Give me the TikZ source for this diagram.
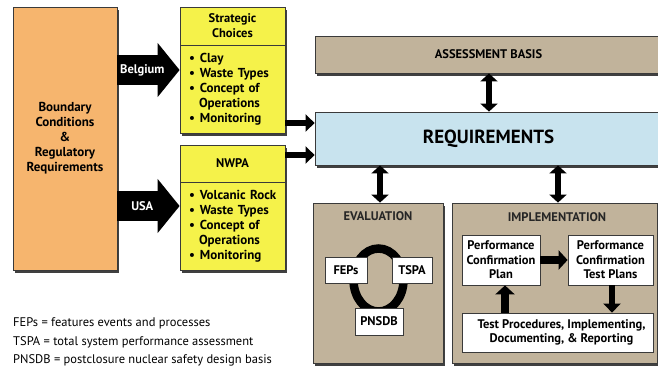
\documentclass[tikz,border=0pt]{standalone}
\usepackage{fontspec}
\setmainfont{PT Sans}
\usepackage{tikz}
\usetikzlibrary{arrows.meta,positioning,calc,shadows}
\definecolor{bcorange}{HTML}{F6B56E}
\definecolor{choiceyellow}{HTML}{F5F24A}
\definecolor{basistan}{HTML}{C1B39B}
\definecolor{reqblue}{HTML}{C8E3EE}
\definecolor{edgegray}{HTML}{3A3A3A}
\tikzset{
  boxshadow/.style={drop shadow={shadow xshift=2pt,shadow yshift=-2.5pt,
             fill=black!75,opacity=1}},
  % boxes
  bcbox/.style={draw=edgegray,line width=0.8pt,fill=bcorange,boxshadow,
             align=center,font=\fontsize{13}{15}\selectfont\bfseries},
  choicehd/.style={draw=edgegray,line width=0.8pt,fill=choiceyellow,boxshadow,
             align=center,font=\fontsize{12.5}{15}\selectfont\bfseries,
             minimum width=105pt,inner sep=0pt},
  choicebody/.style={draw=edgegray,line width=0.8pt,fill=choiceyellow,boxshadow,
             text width=87pt,inner xsep=9pt,inner ysep=0pt,align=left,
             minimum height=88pt,font=\fontsize{13}{15}\selectfont\bfseries},
  basisbox/.style={draw=edgegray,line width=0.8pt,fill=basistan,boxshadow,inner sep=0pt},
  reqbox/.style={draw=edgegray,line width=0.8pt,fill=reqblue,boxshadow,inner sep=0pt},
  whitebox/.style={draw=edgegray,line width=0.8pt,fill=white,inner sep=0pt,
             align=center,font=\fontsize{12.5}{14.5}\selectfont\bfseries},
  title/.style={font=\fontsize{12.5}{14}\selectfont\bfseries,text=black!85},
  % arrows
  bigarr/.style={draw=black,line width=30pt,-{Triangle[length=22pt,width=53pt]}},
  smallarr/.style={draw=black,line width=6pt,-{Triangle[length=9pt,width=17pt]}},
  dblarr/.style={draw=black,line width=5.5pt,{Triangle[length=8pt,width=17pt]}-{Triangle[length=8pt,width=17pt]}},
  midarr/.style={draw=black,line width=8pt,-{Triangle[length=9pt,width=19pt]}},
  arrlabel/.style={text=white,font=\fontsize{12.5}{14}\selectfont\bfseries},
}
\newcommand{\itemrow}[1]{\mbox{\textbullet\hspace{5pt}#1}}
\begin{document}
\begin{tikzpicture}[x=1pt,y=-1pt]
  \useasboundingbox[fill=white] (0,0) rectangle (658,368);
  % left column
  \node[bcbox,minimum width=104pt,minimum height=263pt] (bc) at (65,138.5)
    {Boundary\\Conditions\\\&\\Regulatory\\Requirements};
  \node[choicehd,minimum height=38pt] (sc) at (232.5,26) {Strategic\\Choices};
  \node[choicebody] (scl) at (232.5,89)
    {\itemrow{Clay}\\\itemrow{Waste Types}\\\itemrow{Concept of}\\\hspace*{10pt}Operations\\\itemrow{Monitoring}};
  \node[choicehd,minimum height=37pt] (nw) at (232.5,163.5) {NWPA};
  \node[choicebody] (nwl) at (232.5,226)
    {\itemrow{Volcanic Rock}\\\itemrow{Waste Types}\\\itemrow{Concept of}\\\hspace*{10pt}Operations\\\itemrow{Monitoring}};
  % right column
  \node[basisbox,minimum width=347pt,minimum height=37pt,
        font=\fontsize{12.5}{14}\selectfont\bfseries] (ab) at (488.5,54.5) {ASSESSMENT BASIS};
  \node[reqbox,minimum width=347pt,minimum height=53pt,
        font=\fontsize{19}{22}\selectfont\bfseries] (req) at (488.5,138.5) {REQUIREMENTS};
  \node[basisbox,minimum width=130pt,minimum height=160pt] (ev) at (378,283) {};
  \node[basisbox,minimum width=205pt,minimum height=160pt] (im) at (554.5,283) {};
  \node[title] (evt) at (378,216.5) {EVALUATION};
  \node[title] (imt) at (557,217) {IMPLEMENTATION};
  % evaluation loop
  \coordinate (loop) at (378.5,280);
  \draw[line width=8.5pt] (loop) ellipse [x radius=25,y radius=31.5];
  \node[whitebox,minimum width=42pt,minimum height=26pt] (fep) at (346,270) {FEPs};
  \node[whitebox,minimum width=40pt,minimum height=26pt] (tspa) at (412,270) {TSPA};
  \node[whitebox,minimum width=48pt,minimum height=27pt] (pns) at (379,321.5) {PNSDB};
  % implementation
  \node[whitebox,minimum width=78pt,minimum height=50pt] (pcp) at (501,260)
    {Performance\\Confirmation\\Plan};
  \node[whitebox,minimum width=85pt,minimum height=50pt] (pctp) at (610.5,260)
    {Performance\\Confirmation\\Test Plans};
  \node[whitebox,minimum width=191pt,minimum height=39pt] (tp) at (557.5,332.5)
    {\hspace*{8pt}Test Procedures, Implementing,\\\hspace*{8pt}Documenting, \& Reporting};
  % legend
  \node[anchor=west,align=left,inner sep=0pt,
        font=\fontsize{12.5}{18.5}\selectfont] (leg) at (13,342)
    {FEPs = features events and processes\\
     TSPA = total system performance assessment\\
     PNSDB = postclosure nuclear safety design basis};
  % arrows
  \draw[bigarr] (bc.east |- 0,70) -- node[arrlabel,pos=0.4]{Belgium} (scl.west |- 0,70);
  \draw[bigarr] (bc.east |- 0,206) -- node[arrlabel,pos=0.4]{USA} (nwl.west |- 0,206);
  \draw[smallarr] (scl.east |- 0,123) -- (req.west |- 0,123);
  \draw[smallarr] (nw.east |- 0,155) -- (req.west |- 0,155);
  \draw[dblarr] (ab.south -| 489,0) -- (req.north -| 489,0);
  \draw[dblarr] (req.south -| 380,0) -- (ev.north -| 380,0);
  \draw[dblarr] (req.south -| 558,0) -- (im.north -| 558,0);
  \draw[midarr] (pcp) -- (pctp);
  \draw[smallarr] (pctp.south -| 612,0) -- (tp.north -| 612,0);
  \draw[midarr] (tp.north -| 505,0) -- (pcp.south -| 505,0);
\end{tikzpicture}
\end{document}
